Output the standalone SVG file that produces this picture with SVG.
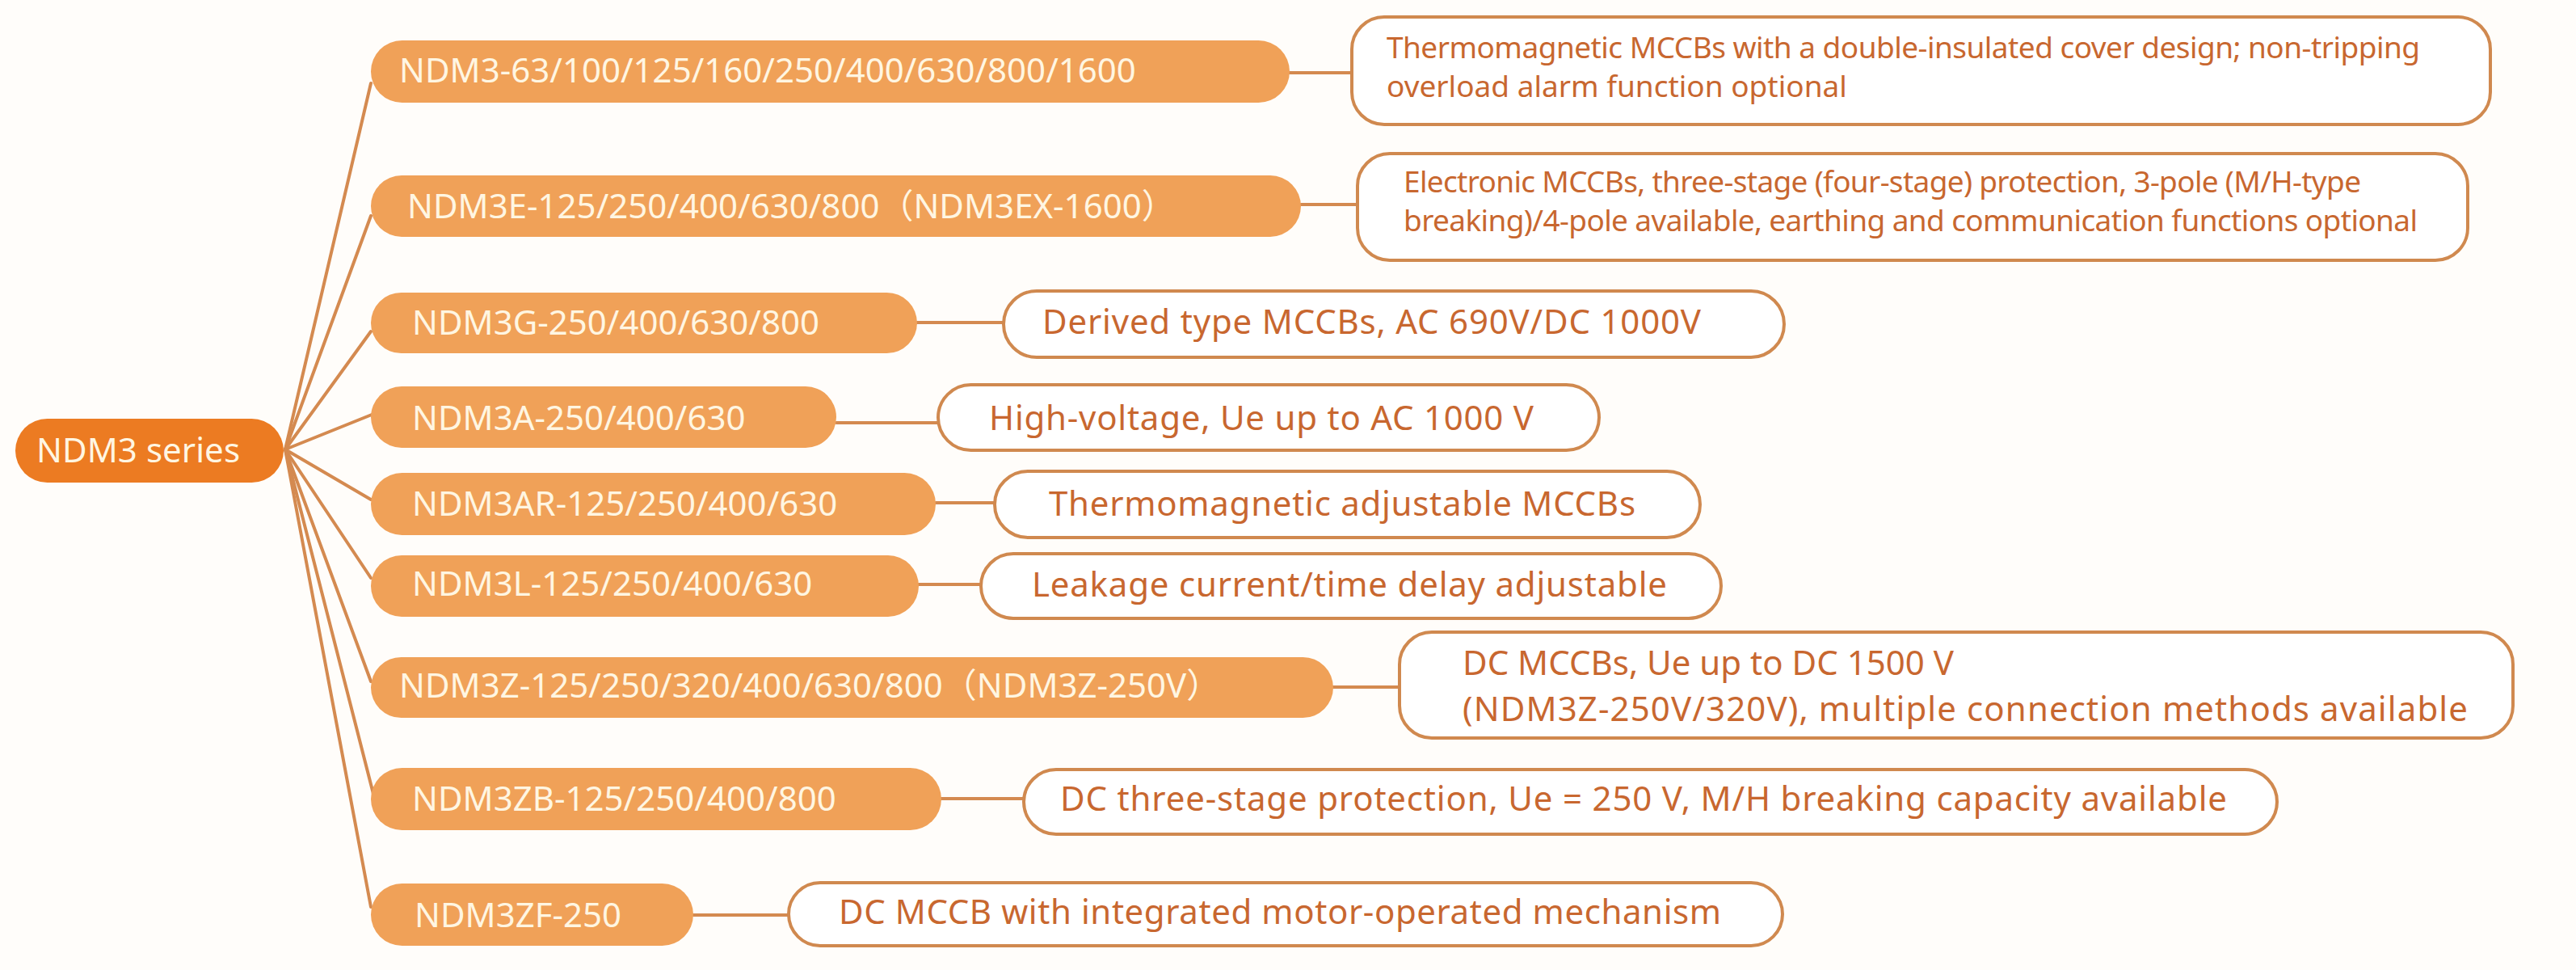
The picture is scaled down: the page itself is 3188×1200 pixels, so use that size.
<svg xmlns="http://www.w3.org/2000/svg" width="3188" height="1200" viewBox="0 0 3188 1200">
<style>
.bg{fill:#FFFDFA}
.root{fill:#EC7B22}
.n{fill:#F0A158}
.d{fill:#FFFFFF;stroke:#D0894F;stroke-width:4}
.c{fill:none;stroke:#D48A50;stroke-width:4;stroke-linecap:round}
.nt{font-family:"Noto Sans","Noto Sans CJK SC",sans-serif;fill:#FFF6E2;font-size:42px}
.dt{font-family:"Noto Sans","Noto Sans CJK SC",sans-serif;fill:#C8672F;font-size:42px}
.sm{font-size:37px}
</style>
<rect class="bg" x="0" y="0" width="3188" height="1200"/>
<g id="connectors">
<path class="c" d="M353 556 L459 103"/>
<path class="c" d="M353 556 L459 267"/>
<path class="c" d="M353 556 L459 410"/>
<path class="c" d="M353 556 L460 513"/>
<path class="c" d="M353 556 L459 618"/>
<path class="c" d="M353 556 L459 715"/>
<path class="c" d="M353 556 L459 843"/>
<path class="c" d="M353 556 L462 982"/>
<path class="c" d="M353 556 L459 1122"/>
<path class="c" d="M1596 90 H1673"/>
<path class="c" d="M1610 253 H1680"/>
<path class="c" d="M1135 399 H1242"/>
<path class="c" d="M1035 523 H1161"/>
<path class="c" d="M1158 622 H1231"/>
<path class="c" d="M1137 723 H1214"/>
<path class="c" d="M1650 850 H1732"/>
<path class="c" d="M1165 988 H1267"/>
<path class="c" d="M858 1132 H976"/>
</g>
<g id="root">
<rect class="root" x="19" y="518" width="332" height="79" rx="39.5"/>
<text class="nt" x="45" y="572" font-size="45" textLength="252">NDM3 series</text>
</g>
<g id="n1">
<rect class="n" x="459" y="50" width="1137" height="77" rx="38.5"/>
<text class="nt" x="494" y="102">NDM3-63/100/125/160/250/400/630/800/1600</text>
</g>
<g id="n2">
<rect class="n" x="459" y="217" width="1151" height="76" rx="38"/>
<text class="nt" x="504" y="270">NDM3E-125/250/400/630/800（NDM3EX-1600）</text>
</g>
<g id="n3">
<rect class="n" x="459" y="362" width="676" height="75" rx="37.5"/>
<text class="nt" x="510" y="414">NDM3G-250/400/630/800</text>
</g>
<g id="n4">
<rect class="n" x="459" y="478" width="576" height="76" rx="38"/>
<text class="nt" x="510" y="532" font-size="44">NDM3A-250/400/630</text>
</g>
<g id="n5">
<rect class="n" x="459" y="585" width="699" height="77" rx="38.5"/>
<text class="nt" x="510" y="638">NDM3AR-125/250/400/630</text>
</g>
<g id="n6">
<rect class="n" x="459" y="687" width="678" height="76" rx="38"/>
<text class="nt" x="510" y="737">NDM3L-125/250/400/630</text>
</g>
<g id="n7">
<rect class="n" x="459" y="813" width="1191" height="75" rx="37.5"/>
<text class="nt" x="494" y="863">NDM3Z-125/250/320/400/630/800（NDM3Z-250V）</text>
</g>
<g id="n8">
<rect class="n" x="459" y="950" width="706" height="77" rx="38.5"/>
<text class="nt" x="510" y="1003">NDM3ZB-125/250/400/800</text>
</g>
<g id="n9">
<rect class="n" x="459" y="1093" width="399" height="77" rx="38.5"/>
<text class="nt" x="513" y="1147">NDM3ZF-250</text>
</g>
<g id="d1">
<rect class="d" x="1673" y="21" width="1409" height="133" rx="40"/>
<text class="dt sm" x="1716" y="72" textLength="1279">Thermomagnetic MCCBs with a double-insulated cover design;  non-tripping</text>
<text class="dt sm" x="1716" y="120">overload alarm function optional</text>
</g>
<g id="d2">
<rect class="d" x="1680" y="190" width="1374" height="132" rx="40"/>
<text class="dt sm" x="1737" y="238" textLength="1185">Electronic MCCBs, three-stage (four-stage) protection, 3-pole (M/H-type</text>
<text class="dt sm" x="1737" y="286" textLength="1255">breaking)/4-pole available, earthing and communication functions optional</text>
</g>
<g id="d3">
<rect class="d" x="1242" y="360" width="966" height="82" rx="41"/>
<text class="dt" x="1290" y="413" textLength="815">Derived type MCCBs, AC 690V/DC 1000V</text>
</g>
<g id="d4">
<rect class="d" x="1161" y="476" width="818" height="81" rx="40.5"/>
<text class="dt" x="1224" y="532" font-size="44" textLength="674">High-voltage, Ue up to AC 1000 V</text>
</g>
<g id="d5">
<rect class="d" x="1231" y="583" width="873" height="82" rx="41"/>
<text class="dt" x="1298" y="638" textLength="726">Thermomagnetic adjustable MCCBs</text>
</g>
<g id="d6">
<rect class="d" x="1214" y="685" width="916" height="80" rx="40"/>
<text class="dt" x="1277" y="738" textLength="786">Leakage current/time delay adjustable</text>
</g>
<g id="d7">
<rect class="d" x="1732" y="782" width="1378" height="131" rx="40"/>
<text class="dt" x="1810" y="835">DC MCCBs, Ue up to DC 1500 V</text>
<text class="dt" x="1810" y="892" textLength="1244">(NDM3Z-250V/320V), multiple connection methods available</text>
</g>
<g id="d8">
<rect class="d" x="1267" y="952" width="1551" height="80" rx="40"/>
<text class="dt" x="1312" y="1003" textLength="1444">DC three-stage protection, Ue = 250 V, M/H breaking capacity available</text>
</g>
<g id="d9">
<rect class="d" x="976" y="1092" width="1230" height="78" rx="39"/>
<text class="dt" x="1038" y="1143" textLength="1092">DC MCCB with integrated motor-operated mechanism</text>
</g>
</svg>
